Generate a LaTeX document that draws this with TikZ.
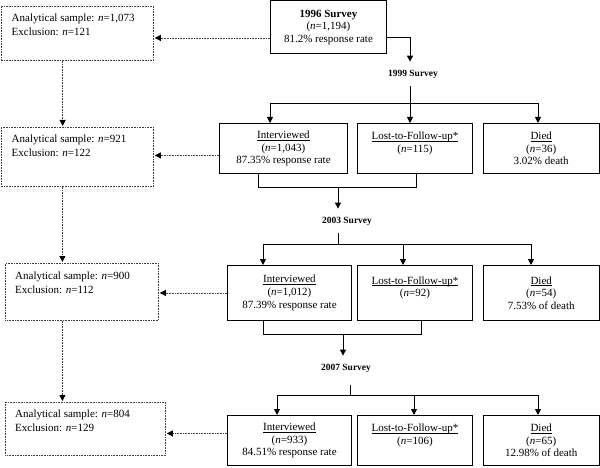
\documentclass[tikz,border=0pt]{standalone}
\usepackage{fontspec}
\setmainfont{Liberation Serif}
\usetikzlibrary{arrows.meta,calc}
\newlength\ulw
\newcommand\myul[1]{\settowidth\ulw{#1}\rlap{\rule[-1.6pt]{\ulw}{0.55pt}}#1}
\begin{document}
\begin{tikzpicture}[x=1pt,y=-1pt,
  every node/.style={font=\fontsize{11}{12.6}\selectfont},
  box/.style={draw, line width=0.9pt, inner sep=0pt, align=center, anchor=north west},
  dbox/.style={draw=black!75, line width=0.8pt, dash pattern=on 0.8pt off 0.8pt, inner sep=0pt, anchor=north west},
  ltext/.style={inner sep=0pt, anchor=north west, align=left, font=\fontsize{11}{14}\selectfont},
  lbl/.style={font=\fontsize{9.5}{11}\selectfont\bfseries, inner xsep=1pt, inner ysep=8pt},
  conn/.style={line width=0.9pt},
  tip/.tip={Triangle[length=6pt,width=6pt]},
  arr/.style={conn, -tip},
  darr/.style={line width=0.8pt, draw=black!75, dash pattern=on 0.8pt off 0.8pt, -{Triangle[length=6pt,width=6pt,color=black]}, shorten >=1pt},
]
\useasboundingbox (0,0) rectangle (600,468);

% survey boxes
\node[box, minimum width=116pt, minimum height=53pt] (s96) at (270,0.5)
  {\textbf{1996 Survey}\\(\textit{n}=1,194)\\81.2\% response rate};

\node[box, minimum width=128pt, minimum height=50pt] (i1) at (219,123)
  {\myul{Interviewed}\\(\textit{n}=1,043)\\87.35\% response rate};
\node[box, minimum width=115pt, minimum height=50pt] (lost1) at (357,123)
  {\myul{Lost-to-Follow-up*}\\(\textit{n}=115)\\\phantom{0}};
\node[box, minimum width=115.5pt, minimum height=50pt] (d1) at (483,123)
  {\myul{Died}\\(\textit{n}=36)\\3.02\% death};

\node[box, minimum width=124pt, minimum height=55pt] (i2) at (227,265)
  {\myul{Interviewed}\\(\textit{n}=1,012)\\87.39\% response rate};
\node[box, minimum width=115pt, minimum height=55pt] (lost2) at (357,265)
  {\myul{Lost-to-Follow-up*}\\(\textit{n}=92)\\\phantom{0}};
\node[box, minimum width=115.5pt, minimum height=55pt] (d2) at (483,265)
  {\myul{Died}\\(\textit{n}=54)\\7.53\% of death};

\node[box, minimum width=124pt, minimum height=50pt] (i3) at (227,415)
  {\myul{Interviewed}\\(\textit{n}=933)\\84.51\% response rate};
\node[box, minimum width=115pt, minimum height=50pt] (lost3) at (357,415)
  {\myul{Lost-to-Follow-up*}\\(\textit{n}=106)\\\phantom{0}};
\node[box, minimum width=115.5pt, minimum height=50pt] (d3) at (483,415)
  {\myul{Died}\\(\textit{n}=65)\\12.98\% of death};

% survey labels
\node[lbl] (l99) at (413,74) {1999 Survey};
\node[lbl] (l03) at (347,221) {2003 Survey};
\node[lbl] (l07) at (346,368) {2007 Survey};

% analytical sample boxes
\node[dbox, minimum width=152.5pt, minimum height=54pt] (a1) at (0.5,6) {};
\node[dbox, minimum width=152.5pt, minimum height=59pt] (a2) at (0.5,127) {};
\node[dbox, minimum width=153pt, minimum height=57pt] (a3) at (5,263) {};
\node[dbox, minimum width=160pt, minimum height=53pt] (a4) at (5,402) {};
\node[ltext] (t1) at ($(a1.north west)+(11,7.5)$) {Analytical sample: \textit{n}=1,073\\Exclusion: \textit{n}=121};
\node[ltext] (t2) at ($(a2.north west)+(11,7.5)$) {Analytical sample: \textit{n}=921\\Exclusion: \textit{n}=122};
\node[ltext] (t3) at ($(a3.north west)+(10,9)$) {Analytical sample: \textit{n}=900\\Exclusion: \textit{n}=112};
\node[ltext] (t4) at ($(a4.north west)+(10,7.5)$) {Analytical sample: \textit{n}=804\\Exclusion: \textit{n}=129};

% 1996 -> 1999
\draw[arr] ([yshift=-10.5pt]s96.east) -| ([xshift=-3pt]l99.north);

% 1999 split
\coordinate (b1) at (270,103);
\coordinate (b1m) at (410,103);
\coordinate (b1e) at (538,103);
\draw[conn] ([xshift=-3pt]l99.south) -- (b1m);
\draw[conn, tip-tip] (b1 |- i1.north) -- (b1) -- (b1e) -- (b1e |- d1.north);
\draw[arr] (b1m) -- (b1m |- lost1.north);

% merge row 1 -> 2003
\coordinate (c1) at (258,187);
\coordinate (c1e) at (416,187);
\draw[conn] (c1 |- i1.south) -- (c1) -- (c1e) -- (c1e |- lost1.south);
\draw[arr] ([xshift=-9pt]l03.north |- c1) -- ([xshift=-9pt]l03.north);

% 2003 split
\coordinate (b2) at (263,244);
\coordinate (b2m) at (403,244);
\coordinate (b2e) at (531,244);
\draw[conn] ([xshift=-9pt]l03.south) -- ([xshift=-9pt]l03.south |- b2);
\draw[conn, tip-tip] (b2 |- i2.north) -- (b2) -- (b2e) -- (b2e |- d2.north);
\draw[arr] (b2m) -- (b2m |- lost2.north);

% merge row 2 -> 2007
\coordinate (c2) at (263,334);
\coordinate (c2e) at (421,334);
\draw[conn] (c2 |- i2.south) -- (c2) -- (c2e) -- (c2e |- lost2.south);
\draw[arr] ([xshift=-3pt]l07.north |- c2) -- ([xshift=-3pt]l07.north);

% 2007 split
\coordinate (b3) at (277,395);
\coordinate (b3m) at (414,395);
\coordinate (b3e) at (538,395);
\draw[conn] ([xshift=4pt,yshift=-5pt]l07.south) -- ([xshift=4pt]l07.south |- b3);
\draw[conn, tip-tip] (b3 |- i3.north) -- (b3) -- (b3e) -- (b3e |- d3.north);
\draw[arr] (b3m) -- (b3m |- lost3.north);

% dotted arrows to analytical samples
\draw[darr] ([yshift=-10.5pt]s96.west) -- ([yshift=-10.5pt]s96.west -| a1.east);
\draw[darr] ([yshift=-7pt]i1.west) -- ([yshift=-7pt]i1.west -| a2.east);
\draw[darr] (i2.west) -- (i2.west -| a3.east);
\draw[darr] ([yshift=7pt]i3.west) -- ([yshift=7pt]i3.west -| a4.east);

\draw[darr] ([xshift=-14.5pt]a1.south) -- ([xshift=-14.5pt]a1.south |- a2.north);
\draw[darr] ([xshift=-14.75pt]a2.south) -- ([xshift=-14.75pt]a2.south |- a3.north);
\draw[darr] ([xshift=-19.5pt]a3.south) -- ([xshift=-19.5pt]a3.south |- a4.north);
\end{tikzpicture}
\end{document}
